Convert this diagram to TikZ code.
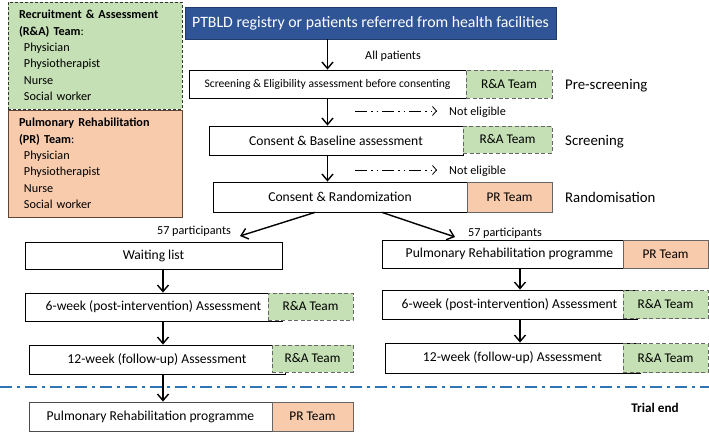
\documentclass[tikz,border=0pt]{standalone}
\usepackage{fontspec}
\setmainfont{Carlito}
\usetikzlibrary{arrows.meta, positioning}

\definecolor{raGreen}{HTML}{C5E0B4}
\definecolor{prOrange}{HTML}{F8CBAD}
\definecolor{headBlue}{HTML}{2F5597}
\definecolor{lineBlue}{HTML}{2E75B6}
\definecolor{legBrown}{HTML}{5E4632}

\begin{document}
\begin{tikzpicture}[x=1pt, y=-1pt,
	box/.style={draw=black, fill=white, line width=0.8pt, inner sep=0pt, font=\fontsize{13.6}{16}\selectfont},
	ratag/.style={draw=black!60, dash pattern=on 4pt off 2.5pt, fill=raGreen, line width=0.9pt, inner sep=0pt, font=\fontsize{13.3}{16}\selectfont},
	prtag/.style={draw=black!60, fill=prOrange, line width=0.8pt, inner sep=0pt, font=\fontsize{13.3}{16}\selectfont},
	legend/.style={minimum width=174pt, minimum height=107pt, text width=152pt, align=left, inner xsep=11pt, inner ysep=0pt, line width=0.9pt, font=\fontsize{12.2}{16.4}\selectfont},
	flow/.style={-{Straight Barb[length=6.5pt,width=11pt]}, line width=1.4pt},
	skip/.style={-{Straight Barb[length=4pt,width=9pt]}, line width=0.8pt, dash pattern=on 12pt off 4pt on 1.5pt off 4pt on 1.5pt off 4pt},
	note/.style={font=\fontsize{12.2}{14}\selectfont, inner sep=0pt},
	stage/.style={font=\fontsize{14.8}{17}\selectfont, anchor=west, inner sep=0pt}]
	\useasboundingbox (0,0) rectangle (709,433);

	% Team legend
	\node[legend, fill=raGreen, draw=black!80, dash pattern=on 3pt off 2pt] (ra) at (95,55.5)
		{\textbf{Recruitment \& Assessment}\\\textbf{(R\&A) Team}:\\\hspace*{5pt}Physician\\\hspace*{5pt}Physiotherapist\\\hspace*{5pt}Nurse\\\hspace*{5pt}Social worker};
	\node[legend, fill=prOrange, draw=legBrown] (pr) at (95,163.5)
		{\textbf{Pulmonary Rehabilitation}\\\textbf{(PR) Team}:\\\hspace*{5pt}Physician\\\hspace*{5pt}Physiotherapist\\\hspace*{5pt}Nurse\\\hspace*{5pt}Social worker};

	% Recruitment stages
	\node[draw=headBlue!70!black, fill=headBlue, text=white, inner sep=0pt, minimum width=371pt, minimum height=32pt, font=\fontsize{15.8}{18}\selectfont] (head) at (370.5,23) {PTBLD registry or patients referred from health facilities};
	\node[box, minimum width=277pt, minimum height=28pt, font=\fontsize{11.6}{14}\selectfont] (pre) at (327.5,84) {Screening \& Eligibility assessment before consenting};
	\node[ratag, minimum width=86pt, minimum height=28pt] (preT) at (509,84) {R\&A Team};
	\node[box, minimum width=254pt, minimum height=29pt] (base) at (336,140.5) {Consent \& Baseline assessment};
	\node[ratag, minimum width=89pt, minimum height=27pt] (baseT) at (507.5,139.5) {R\&A Team};
	\node[box, minimum width=254pt, minimum height=30pt] (rand) at (340,197) {Consent \& Randomization};
	\node[prtag, minimum width=85pt, minimum height=30pt] (randT) at (509.5,197) {PR Team};

	\node[stage] (sPre) at (565,86) {Pre-screening};
	\node[stage] (sScr) at (565,142) {Screening};
	\node[stage] (sRand) at (565,197) {Randomisation};

	\node[note] (allp) at (393,56) {All patients};
	\node[note, anchor=west] (ne1) at (449,112) {Not eligible};
	\node[note, anchor=west] (ne2) at (449,171) {Not eligible};
	\coordinate (ne1s) at (355,111);
	\coordinate (ne2s) at (355,170);

	\draw[flow] (head.south -| pre.north) -- (pre.north);
	\draw[flow] (pre.south) -- (pre.south |- base.north);
	\draw[flow] (pre.south |- base.south) -- (pre.south |- rand.north);
	\draw[skip, shorten >=12pt] (ne1s) -- (ne1s -| ne1.west);
	\draw[skip, shorten >=12pt] (ne2s) -- (ne2s -| ne2.west);

	% Randomisation split
	\node[note] (pL) at (194,231) {57 participants};
	\node[note] (pR) at (505,233) {57 participants};
	\coordinate (tipL) at (240,236);
	\coordinate (tipR) at (455,237);
	\draw[flow] ([xshift=-25pt]rand.south) -- (tipL);
	\draw[flow] ([xshift=42pt]rand.south) -- (tipR);

	% Control arm
	\node[box, minimum width=257pt, minimum height=27pt] (wait) at (153.5,255.5) {Waiting list};
	\node[box, minimum width=257pt, minimum height=28pt] (wsix) at (153.5,307) {6-week (post-intervention) Assessment};
	\node[ratag, minimum width=85pt, minimum height=27pt] (wsixT) at (310.5,306.5) {R\&A Team};
	\node[box, minimum width=256pt, minimum height=29pt] (wtw) at (157,359.5) {12-week (follow-up) Assessment};
	\node[ratag, minimum width=81pt, minimum height=27pt] (wtwT) at (312.5,358.5) {R\&A Team};
	\node[box, draw=black!70, minimum width=243pt, minimum height=29pt] (wpr) at (150.5,416.5) {Pulmonary Rehabilitation programme};
	\node[prtag, minimum width=81pt, minimum height=29pt] (wprT) at (312.5,416.5) {PR Team};

	\draw[flow] ([xshift=9.5pt]wait.south) -- ([xshift=9.5pt]wait.south |- wsix.north);
	\draw[flow] ([xshift=9.5pt]wait.south |- wsix.south) -- ([xshift=9.5pt]wait.south |- wtw.north);
	\draw[flow] ([xshift=9.5pt]wait.south |- wtw.south) -- ([xshift=9.5pt]wait.south |- wpr.north);

	% Intervention arm
	\node[box, minimum width=255pt, minimum height=28pt] (ipr) at (509.5,254) {Pulmonary Rehabilitation programme};
	\node[prtag, minimum width=85pt, minimum height=28pt] (iprT) at (665.5,254) {PR Team};
	\node[box, minimum width=255pt, minimum height=29pt] (isix) at (509.5,304.5) {6-week (post-intervention) Assessment};
	\node[ratag, minimum width=85pt, minimum height=28pt] (isixT) at (665.5,304.5) {R\&A Team};
	\node[box, minimum width=255pt, minimum height=30pt] (itw) at (512.5,358) {12-week (follow-up) Assessment};
	\node[ratag, minimum width=85pt, minimum height=29pt] (itwT) at (665.5,358) {R\&A Team};

	\draw[flow] ([xshift=10.5pt]ipr.south) -- ([xshift=10.5pt]ipr.south |- isix.north);
	\draw[flow] ([xshift=10.5pt]ipr.south |- isix.south) -- ([xshift=10.5pt]ipr.south |- itw.north);

	% Trial end
	\draw[lineBlue, line width=1.8pt, dash pattern=on 12pt off 5pt on 3pt off 5pt] (0,387) -- (709,387);
	\node[font=\bfseries\fontsize{13.2}{16}\selectfont, inner sep=0pt] (tend) at (655,408) {Trial end};
\end{tikzpicture}
\end{document}
